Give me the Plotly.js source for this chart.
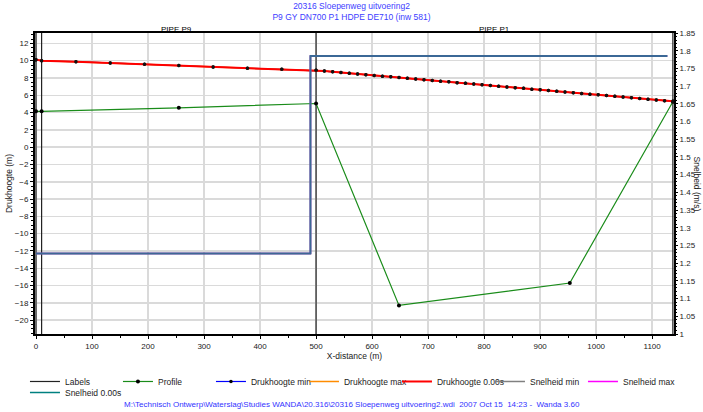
<!DOCTYPE html>
<html>
<head>
<meta charset="utf-8">
<script src="https://cdn.plot.ly/plotly-3.0.1.min.js"></script>
<style>html,body{margin:0;padding:0;background:#fff;}#chart{width:703px;height:412px;}</style>
</head>
<body>
<div id="chart"></div>
<script>
// ---- data ----
const titleLines = ['20316 Sloepenweg uitvoering2', 'P9 GY DN700 P1 HDPE DE710 (inw 581)'];
const footerText = 'M:\\Technisch Ontwerp\\Waterslag\\Studies WANDA\\20.316\\20316 Sloepenweg uitvoering2.wdi  2007 Oct 15  14:23 -  Wanda 3.60';

const pipeNames = ['PIPE P9', 'PIPE P1'];
const pipeStart = [0, 500];
const pipeEnd = [500, 1137];

const labelX = [0, 10, 500, 1137];

const profileX = [0, 10, 255, 500, 648, 953, 1137];
const profileZ = [4.15, 4.15, 4.55, 5.05, -18.3, -15.7, 5.25];

const xP9 = [0, 10, 71.25, 132.5, 193.75, 255, 316.25, 377.5, 438.75, 500];
const hP9 = [10.12, 9.98, 9.88, 9.74, 9.58, 9.43, 9.28, 9.13, 9.00, 8.88];

const xP1 = [500, 514.8, 529.6, 544.4, 559.3, 574.1, 588.9, 603.7, 618.5, 633.3, 648.1, 663.0, 677.8, 692.6, 707.4, 722.2, 737.0, 751.8, 766.7, 781.5, 796.3, 811.1, 825.9, 840.7, 855.5, 870.4, 885.2, 900.0, 914.8, 929.6, 944.4, 959.2, 974.1, 988.9, 1003.7, 1018.5, 1033.3, 1048.1, 1063.0, 1077.8, 1092.6, 1107.4, 1122.2, 1137.0];
const hP1 = [8.88, 8.80, 8.71, 8.63, 8.55, 8.46, 8.38, 8.30, 8.21, 8.13, 8.05, 7.96, 7.88, 7.80, 7.71, 7.63, 7.55, 7.46, 7.38, 7.30, 7.21, 7.13, 7.05, 6.96, 6.88, 6.80, 6.71, 6.63, 6.55, 6.46, 6.38, 6.30, 6.21, 6.13, 6.05, 5.96, 5.88, 5.80, 5.71, 5.63, 5.55, 5.46, 5.38, 5.30];

const speedX = [0, 490, 490, 1127];
const speedV = [1.2275, 1.2275, 1.785, 1.785];

const yRange = [-21.6, 13.2];
const y2Range = [1, 1.85];
const xRange = [-1.8, 1139];

// ---- build traces ----
const headX = xP9.concat(xP1.slice(1));
const headH = hP9.concat(hP1.slice(1));

const lblX = [], lblY = [];
labelX.forEach(function (x) { lblX.push(x, x, null); lblY.push(yRange[0], yRange[1], null); });

const fnt = 'Liberation Sans, Arial, sans-serif';

const traces = [
  {name: 'Labels', x: lblX, y: lblY, mode: 'lines', line: {color: '#222222', width: 1.2}, hoverinfo: 'skip'},
  {name: 'Profile', x: profileX, y: profileZ, mode: 'lines+markers', line: {color: '#1a8c1a', width: 1.2},
   marker: {color: '#000000', size: 4}},
  {name: 'Drukhoogte min', x: headX, y: headH, mode: 'lines+markers', line: {color: '#0000ff', width: 1.2},
   marker: {color: '#000000', size: 3.5}},
  {name: 'Drukhoogte max', x: headX, y: headH, mode: 'lines', line: {color: '#ff8c00', width: 1.5}},
  {name: 'Drukhoogte 0.00s', x: headX, y: headH, mode: 'lines', line: {color: '#ff0000', width: 2}},
  {name: 'Snelheid min', x: speedX, y: speedV, yaxis: 'y2', mode: 'lines', line: {color: '#808080', width: 1.5}},
  {name: 'Snelheid max', x: speedX, y: speedV, yaxis: 'y2', mode: 'lines', line: {color: '#ff00ff', width: 1.5}},
  {name: 'Snelheid 0.00s', x: speedX, y: speedV, yaxis: 'y2', mode: 'lines', line: {color: '#008080', width: 1.5},
   legend: 'legend2'},
  // visual overlays (blend of the coincident lines in the reference)
  {x: speedX, y: speedV, yaxis: 'y2', mode: 'lines', line: {color: '#3d6895', width: 1.5}, showlegend: false},
  {x: headX, y: headH, mode: 'markers', marker: {color: '#111111', size: 3.5}, showlegend: false}
];

const annotations = pipeNames.map(function (n, i) {
  return {text: n, xref: 'x', yref: 'paper', x: (pipeStart[i] + pipeEnd[i]) / 2, y: 1.013,
          xanchor: 'center', yanchor: 'middle', showarrow: false, font: {family: fnt, size: 8, color: '#000'}};
});
annotations.push({text: 'Snelheid (m/s)', xref: 'paper', yref: 'paper', x: 1.036, y: 0.5, textangle: 90,
  xanchor: 'center', yanchor: 'middle', showarrow: false, font: {family: fnt, size: 8.5, color: '#222'}});
annotations.push({text: footerText, xref: 'paper', yref: 'paper', x: 0.496, y: -0.2326,
  xanchor: 'center', yanchor: 'middle', showarrow: false, font: {family: fnt, size: 8, color: '#3333ff'}});

const legendCommon = {orientation: 'h', xanchor: 'left', yanchor: 'top',
  font: {family: fnt, size: 8.5, color: '#222'}, itemwidth: 30, entrywidthmode: 'pixels',
  bgcolor: 'rgba(0,0,0,0)', tracegroupgap: 0, traceorder: 'normal'};

const layout = {
  width: 703, height: 412,
  margin: {l: 35, r: 29, t: 33, b: 78, autoexpand: false},
  paper_bgcolor: '#ffffff', plot_bgcolor: '#ffffff',
  font: {family: fnt, size: 8, color: '#222'},
  title: {text: titleLines.join('<br>'), x: 0.5, xanchor: 'center', y: 0.978, yanchor: 'top', yref: 'container',
          font: {family: fnt, size: 8.5, color: '#3d3dff'}},
  showlegend: true,
  legend: Object.assign({}, legendCommon, {x: -0.0157, y: -0.1096, entrywidth: 48}),
  legend2: Object.assign({}, legendCommon, {x: -0.0157, y: -0.1462, entrywidth: 0}),
  xaxis: {range: xRange, tick0: 0, dtick: 100, showgrid: true, gridcolor: '#dadada', gridwidth: 1.5,
          zeroline: false, showline: true, mirror: true, linecolor: '#000', linewidth: 2, automargin: false,
          ticks: 'outside', ticklen: 3, tickcolor: '#000', tickfont: {family: fnt, size: 8, color: '#222'},
          minor: {dtick: 50, ticks: 'outside', ticklen: 2, tickcolor: '#000', showgrid: false},
          title: {text: 'X-distance (m)', standoff: 2, font: {family: fnt, size: 8.5, color: '#222'}}},
  yaxis: {range: yRange, tick0: 0, dtick: 2, showgrid: true, gridcolor: '#dadada', gridwidth: 1.5,
          zeroline: false, showline: true, mirror: true, linecolor: '#000', linewidth: 2, automargin: false,
          ticks: 'outside', ticklen: 3, tickcolor: '#000', tickfont: {family: fnt, size: 8, color: '#222'},
          minor: {dtick: 0.5, ticks: 'outside', ticklen: 2, tickcolor: '#000', showgrid: false},
          title: {text: 'Drukhoogte (m)', standoff: 1, font: {family: fnt, size: 8.5, color: '#222'}}},
  yaxis2: {range: y2Range, overlaying: 'y', side: 'right', tick0: 1, dtick: 0.05, showgrid: false,
           zeroline: false, showline: false, ticks: 'outside', ticklen: 3, tickcolor: '#000', automargin: false,
           tickfont: {family: fnt, size: 8, color: '#222'},
           minor: {dtick: 0.01, ticks: 'outside', ticklen: 2, tickcolor: '#000', showgrid: false}},
  annotations: annotations
};

Plotly.newPlot('chart', traces, layout, {displayModeBar: false, staticPlot: true});
</script>
</body>
</html>
